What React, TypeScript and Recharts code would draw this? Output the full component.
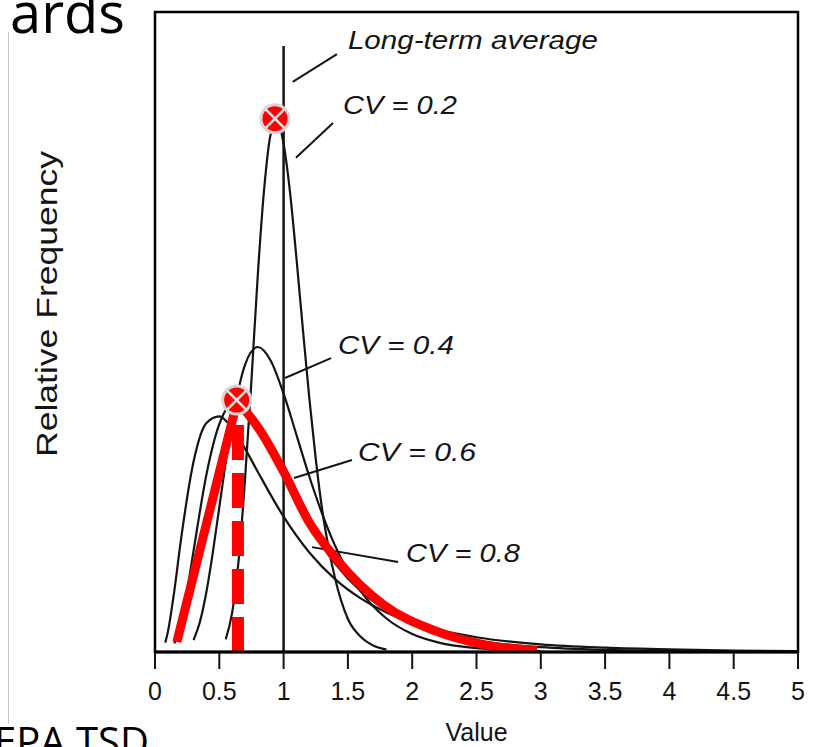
import {
  Label,
  Line,
  LineChart,
  ReferenceArea,
  ReferenceDot,
  ReferenceLine,
  XAxis,
  YAxis,
} from "recharts"

// values (x = value, y = relative frequency)
const cv02X = [0.55, 0.6, 0.65, 0.7, 0.75, 0.8, 0.85, 0.9, 0.95, 1.0, 1.05, 1.1, 1.15, 1.2, 1.25, 1.3, 1.35, 1.4, 1.5, 1.6, 1.7, 1.8]
const cv02Y = [0.05, 0.155, 0.36, 0.68, 1.07, 1.49, 1.83, 2.04, 2.09, 2.0, 1.81, 1.55, 1.27, 1.0, 0.76, 0.56, 0.41, 0.29, 0.13, 0.06, 0.025, 0.01]

const cv04X = [0.3, 0.35, 0.4, 0.45, 0.5, 0.6, 0.7, 0.8, 0.9, 1.0, 1.1, 1.2, 1.3, 1.4, 1.5, 1.6, 1.8, 2.0, 2.2, 2.5, 3.0]
const cv04Y = [0.047, 0.12, 0.237, 0.393, 0.57, 0.908, 1.131, 1.201, 1.147, 1.017, 0.855, 0.691, 0.544, 0.419, 0.318, 0.239, 0.132, 0.071, 0.038, 0.015, 0.003]

const cv06X = [0.15, 0.2, 0.25, 0.3, 0.4, 0.5, 0.6, 0.7, 0.8, 0.9, 1.0, 1.2, 1.4, 1.6, 1.8, 2.0, 2.5, 3.0, 3.5, 4.0, 4.5, 5.0]
const cv06Y = [0.034, 0.115, 0.243, 0.399, 0.699, 0.897, 0.975, 0.961, 0.892, 0.796, 0.692, 0.499, 0.348, 0.239, 0.164, 0.112, 0.045, 0.019, 0.008, 0.004, 0.002, 0.001]

const cv08X = [0.08, 0.1, 0.15, 0.2, 0.3, 0.4, 0.5, 0.6, 0.7, 0.8, 1.0, 1.2, 1.4, 1.6, 1.8, 2.0, 2.5, 3.0, 3.5, 4.0, 4.5, 5.0]
const cv08Y = [0.037, 0.079, 0.24, 0.435, 0.75, 0.902, 0.928, 0.881, 0.801, 0.709, 0.533, 0.392, 0.287, 0.211, 0.156, 0.116, 0.058, 0.03, 0.017, 0.01, 0.006, 0.0035]

// red overlay drawn on the slide
const redRiseX = [0.17, 0.64]
const redRiseY = [0.04, 0.99]
const redFallX = [0.64, 0.82, 1.0, 1.2, 1.42, 1.78, 2.17, 2.55, 2.97]
const redFallY = [0.99, 0.87, 0.71, 0.51, 0.36, 0.185, 0.085, 0.03, 0.006]

const markerX = [0.933, 0.635]
const markerY = [2.1, 0.992]
const dashedX = 0.645

const longTermAverage = 1
const xTicks = [0, 0.5, 1, 1.5, 2, 2.5, 3, 3.5, 4, 4.5, 5]
const yMax = 2.52

// curve labels: text, anchor point, leader line start/end
const notes = [
  { text: "Long-term average", x: 1.5, y: 2.409, len: 250, lx1: 1.071, ly1: 2.245, lx2: 1.415, ly2: 2.354 },
  { text: "CV = 0.2", x: 1.462, y: 2.154, len: 114, lx1: 1.096, ly1: 1.946, lx2: 1.384, ly2: 2.083 },
  { text: "CV = 0.4", x: 1.423, y: 1.209, len: 116, lx1: 1.011, ly1: 1.079, lx2: 1.369, ly2: 1.157 },
  { text: "CV = 0.6", x: 1.579, y: 0.787, len: 118, lx1: 1.081, ly1: 0.685, lx2: 1.532, ly2: 0.756 },
  { text: "CV = 0.8", x: 1.952, y: 0.39, len: 114, lx1: 1.221, ly1: 0.413, lx2: 1.89, ly2: 0.354 },
]

const toPoints = (xs: number[], ys: number[]) => xs.map((x, i) => ({ x, y: ys[i] }))

const curves = [
  { key: "cv02", data: toPoints(cv02X, cv02Y) },
  { key: "cv04", data: toPoints(cv04X, cv04Y) },
  { key: "cv06", data: toPoints(cv06X, cv06Y) },
  { key: "cv08", data: toPoints(cv08X, cv08Y) },
]

const ink = "#141414"
const chartFont = "'Liberation Sans', Arial, sans-serif"

const Marker = (props: any) => {
  const { cx, cy } = props
  const r = 14
  const d = r * 0.66
  return (
    <g>
      <circle cx={cx} cy={cy} r={r} fill="#ff0000" stroke="#d6d6d6" strokeWidth={3} />
      <line x1={cx - d} y1={cy - d} x2={cx + d} y2={cy + d} stroke="#e6e6e6" strokeWidth={2.5} />
      <line x1={cx - d} y1={cy + d} x2={cx + d} y2={cy - d} stroke="#e6e6e6" strokeWidth={2.5} />
    </g>
  )
}

const noteShape = (text: string, len: number) => (props: any) => (
  <text
    x={props.cx}
    y={props.cy}
    dominantBaseline="central"
    fontFamily={chartFont}
    fontStyle="italic"
    fontSize={25}
    fill={ink}
    textLength={len}
    lengthAdjust="spacingAndGlyphs"
  >
    {text}
  </text>
)

const YTitle = (props: any) => {
  const vb = props.viewBox
  const x = vb.x + 26
  const y = vb.y + vb.height / 2 - 28
  return (
    <text
      x={x}
      y={y}
      transform={`rotate(-90, ${x}, ${y})`}
      textAnchor="middle"
      dominantBaseline="central"
      fontFamily={chartFont}
      fontSize={30}
      fill={ink}
      textLength={306}
      lengthAdjust="spacingAndGlyphs"
    >
      Relative Frequency
    </text>
  )
}

const XTitle = (props: any) => {
  const vb = props.viewBox
  return (
    <text
      x={vb.x + vb.width / 2}
      y={vb.y + 89}
      textAnchor="middle"
      fontFamily={chartFont}
      fontSize={25}
      fill={ink}
    >
      Value
    </text>
  )
}

export default function App() {
  return (
    <div style={{ position: "absolute", left: 0, top: 0, width: 820, height: 747, background: "#fff", overflow: "hidden" }}>
      <svg width={820} height={747} style={{ position: "absolute", left: 0, top: 0 }}>
        <line x1={8.5} y1={32} x2={8.5} y2={724} stroke="#c4c4c4" strokeWidth={1} />
        <text x={125} y={33} textAnchor="end" fontFamily="'Open Sans', sans-serif" fontSize={56} fill="#000">
          ards
        </text>
        <text x={-6} y={756} fontFamily="'Open Sans', sans-serif" fontSize={40} fill="#000">
          EPA TSD
        </text>
      </svg>
      <div style={{ position: "absolute", left: 0, top: 0 }}>
        <LineChart width={820} height={747} margin={{ top: 12, right: 22, bottom: 0, left: 20 }}>
          <XAxis
            type="number"
            dataKey="x"
            domain={[0, 5]}
            ticks={xTicks}
            allowDataOverflow
            height={95}
            axisLine={{ stroke: "#000", strokeWidth: 3 }}
            tickLine={{ stroke: ink, strokeWidth: 2 }}
            tickSize={17}
            tickMargin={13}
            tick={{ fill: ink, fontSize: 25, fontFamily: chartFont }}
          >
            <Label content={XTitle} />
          </XAxis>
          <YAxis
            type="number"
            domain={[0, yMax]}
            allowDataOverflow
            width={135}
            tick={false}
            tickLine={false}
            axisLine={false}
          >
            <Label content={YTitle} />
          </YAxis>

          <ReferenceArea
            x1={0}
            x2={5}
            y1={0}
            y2={yMax}
            fill="none"
            fillOpacity={0}
            stroke="#000"
            strokeWidth={2.5}
            ifOverflow="visible"
          />

          {curves.map((c) => (
            <Line
              key={c.key}
              data={c.data}
              dataKey="y"
              type="monotone"
              stroke={ink}
              strokeWidth={2.2}
              dot={false}
              activeDot={false}
              isAnimationActive={false}
            />
          ))}

          <ReferenceLine
            segment={[
              { x: longTermAverage, y: 0 },
              { x: longTermAverage, y: 2.386 },
            ]}
            stroke={ink}
            strokeWidth={2.5}
          />

          {notes.map((n) => (
            <ReferenceLine
              key={n.text + "-lead"}
              segment={[
                { x: n.lx1, y: n.ly1 },
                { x: n.lx2, y: n.ly2 },
              ]}
              stroke={ink}
              strokeWidth={2}
            />
          ))}
          {notes.map((n) => (
            <ReferenceDot key={n.text} x={n.x} y={n.y} r={0} shape={noteShape(n.text, n.len)} />
          ))}

          <ReferenceLine
            segment={[
              { x: dashedX, y: 0 },
              { x: dashedX, y: redRiseY[1] },
            ]}
            stroke="#ff0000"
            strokeWidth={12}
            strokeDasharray="35 13"
          />

          {markerX.map((x, i) => (
            <ReferenceDot key={"m" + i} x={x} y={markerY[i]} r={14} shape={Marker} />
          ))}

          <Line
            data={toPoints(redRiseX, redRiseY)}
            dataKey="y"
            type="linear"
            stroke="#ff0000"
            strokeWidth={9}
            strokeLinecap="butt"
            dot={false}
            activeDot={false}
            isAnimationActive={false}
          />
          <Line
            data={toPoints(redFallX, redFallY)}
            dataKey="y"
            type="monotone"
            stroke="#ff0000"
            strokeWidth={9}
            strokeLinecap="butt"
            dot={false}
            activeDot={false}
            isAnimationActive={false}
          />
        </LineChart>
      </div>
    </div>
  )
}
